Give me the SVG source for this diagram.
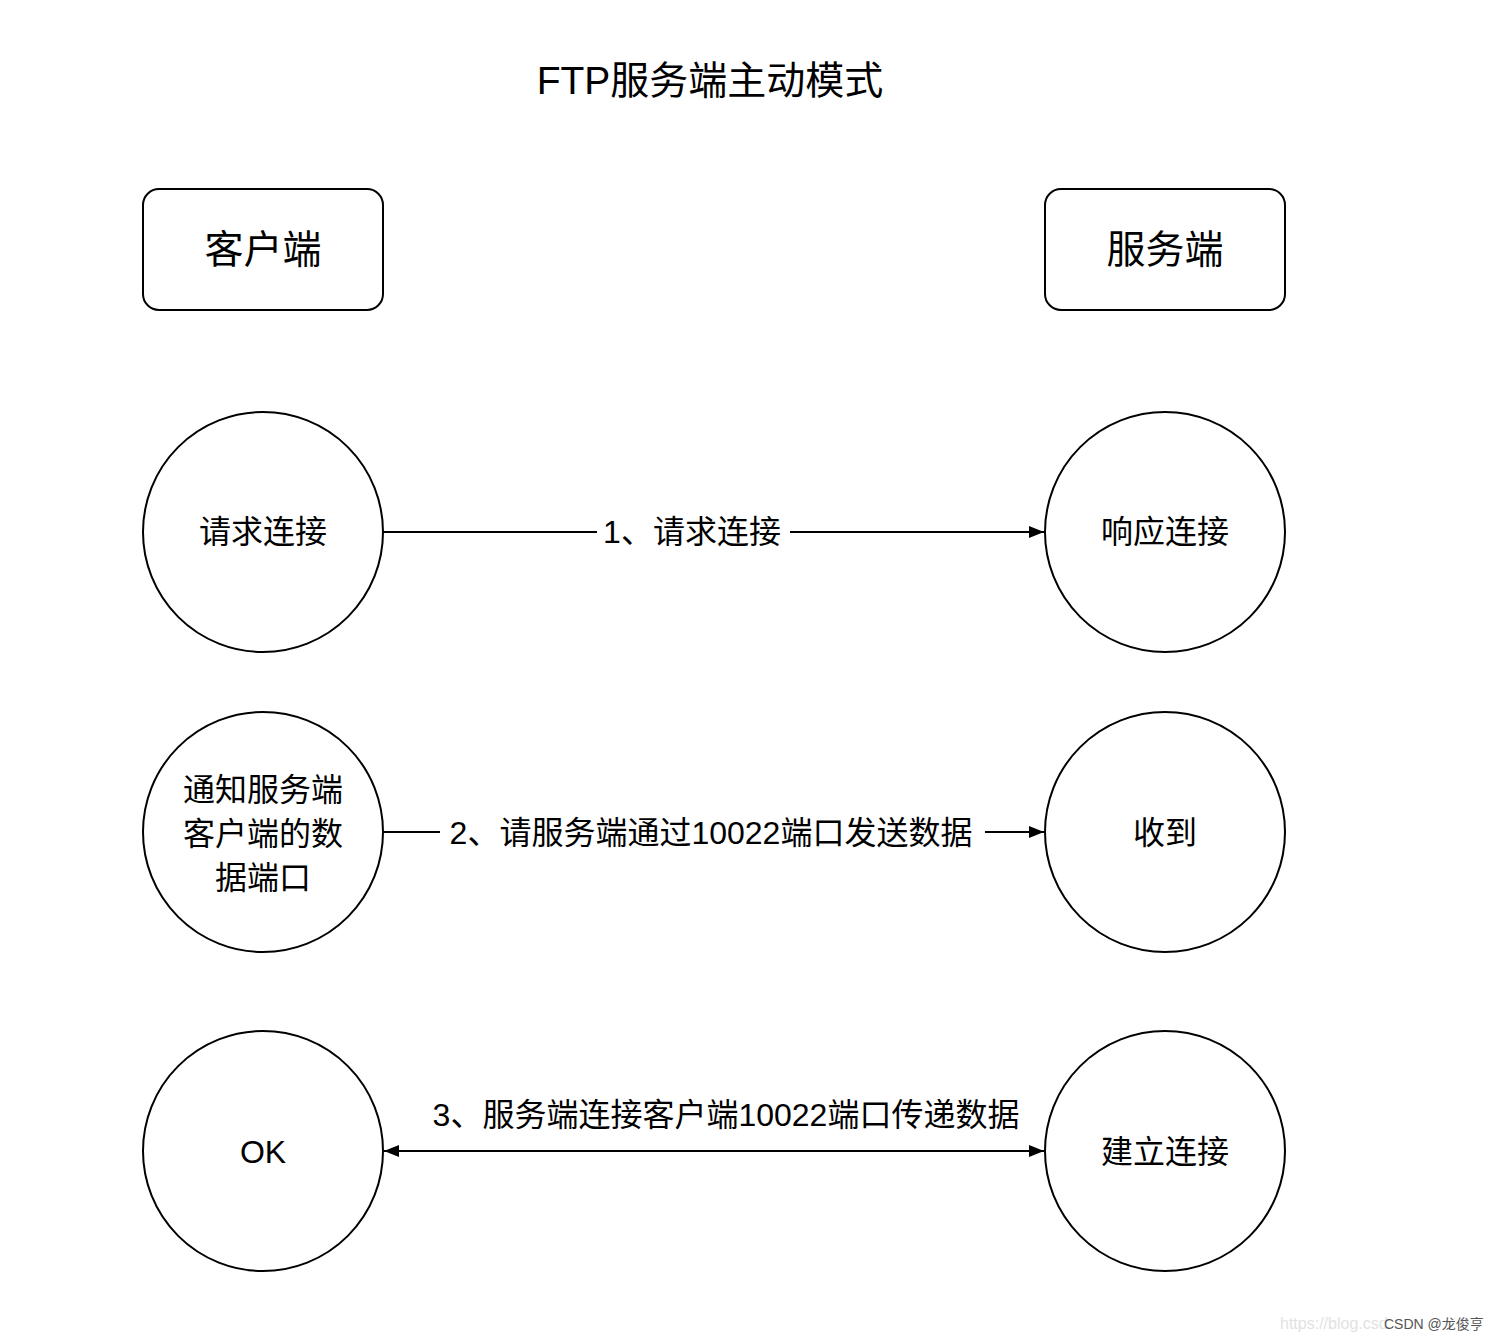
<svg xmlns="http://www.w3.org/2000/svg" width="1498" height="1340" viewBox="0 0 1498 1340">
<style>
  text { font-family: "Liberation Sans", "Noto Sans CJK SC", sans-serif; fill: #000; }
  .title { font-size: 39px; }
  .big { font-size: 39px; }
  .lbl { font-size: 32px; }
  .node { fill: #fff; stroke: #000; stroke-width: 2; }
  .edge { stroke: #000; stroke-width: 2; fill: none; }
  .bg { fill: #fff; }
</style>
<defs>
  <marker id="arr" viewBox="0 0 15 12" refX="15" refY="6" markerWidth="15" markerHeight="12" markerUnits="userSpaceOnUse" orient="auto-start-reverse">
    <path d="M0,0 L15,6 L0,12 Z" fill="#000"/>
  </marker>
</defs>
<rect width="1498" height="1340" fill="#fff"/>
<text class="title" x="710" y="94" text-anchor="middle">FTP服务端主动模式</text>

<g id="connectors">
  <g id="e1">
    <line class="edge" x1="383" y1="532" x2="1044" y2="532" marker-end="url(#arr)"/>
    <rect class="bg" x="597" y="512" width="193" height="40"/>
    <text class="lbl" x="692" y="543" text-anchor="middle">1、请求连接</text>
  </g>
  <g id="e2">
    <line class="edge" x1="383" y1="832" x2="1044" y2="832" marker-end="url(#arr)"/>
    <rect class="bg" x="440" y="812" width="545" height="40"/>
    <text class="lbl" x="711" y="844" text-anchor="middle">2、请服务端通过10022端口发送数据</text>
  </g>
  <g id="e3">
    <line class="edge" x1="384" y1="1151" x2="1044" y2="1151" marker-start="url(#arr)" marker-end="url(#arr)"/>
    <text class="lbl" x="726" y="1126" text-anchor="middle">3、服务端连接客户端10022端口传递数据</text>
  </g>
</g>

<g id="client">
  <rect class="node" x="143" y="189" width="240" height="121" rx="16"/>
  <text class="big" x="263" y="263" text-anchor="middle">客户端</text>
</g>
<g id="server">
  <rect class="node" x="1045" y="189" width="240" height="121" rx="16"/>
  <text class="big" x="1165" y="263" text-anchor="middle">服务端</text>
</g>

<g id="c1">
  <circle class="node" cx="263" cy="532" r="120"/>
  <text class="lbl" x="263" y="543" text-anchor="middle">请求连接</text>
</g>
<g id="s1">
  <circle class="node" cx="1165" cy="532" r="120"/>
  <text class="lbl" x="1165" y="543" text-anchor="middle">响应连接</text>
</g>
<g id="c2">
  <circle class="node" cx="263" cy="832" r="120"/>
  <text class="lbl" x="263" y="801" text-anchor="middle">通知服务端</text>
  <text class="lbl" x="263" y="845" text-anchor="middle">客户端的数</text>
  <text class="lbl" x="263" y="889" text-anchor="middle">据端口</text>
</g>
<g id="s2">
  <circle class="node" cx="1165" cy="832" r="120"/>
  <text class="lbl" x="1165" y="844" text-anchor="middle">收到</text>
</g>
<g id="c3">
  <circle class="node" cx="263" cy="1151" r="120"/>
  <text class="lbl" x="263" y="1163" text-anchor="middle">OK</text>
</g>
<g id="s3">
  <circle class="node" cx="1165" cy="1151" r="120"/>
  <text class="lbl" x="1165" y="1163" text-anchor="middle">建立连接</text>
</g>

<g id="watermark">
  <text x="1280" y="1329" style="font-size:16px;fill:#e2e2e2">https://blog.csd</text>
  <text x="1384" y="1329" style="font-size:14px;fill:#555">CSDN @龙俊亨</text>
</g>
</svg>
